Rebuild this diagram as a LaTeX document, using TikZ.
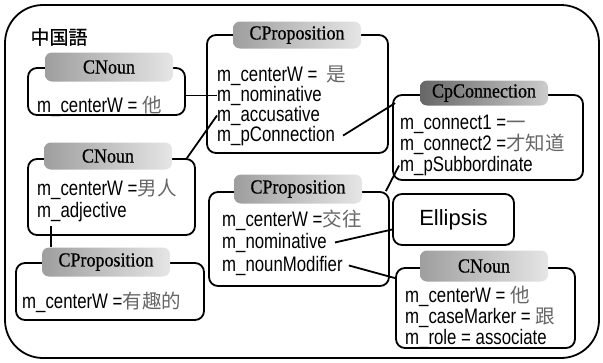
\documentclass[tikz,border=0pt]{standalone}
\usepackage{fontspec}
\setmainfont{Liberation Sans}
\newfontfamily\labfont[FakeStretch=0.8]{Liberation Sans}
\newfontfamily\hdrfont[FakeStretch=0.9,FakeBold=0.6]{Liberation Serif}
\newfontfamily\zhfont{Noto Sans CJK SC}
\newfontfamily\jpfont[FakeBold=0.8]{Noto Sans CJK JP}
\newcommand\zh[1]{{\zhfont\fontsize{19.5}{19.5}\selectfont\color{black!60}#1}}

\begin{document}
\begin{tikzpicture}[x=1pt,y=-1pt,
  frame/.style={draw,line width=1.8pt,rounded corners=9pt,inner sep=0pt},
  hdr/.style={rounded corners=7pt,shading=axis,left color=black!38,right color=black!10,
    inner sep=0pt,font=\hdrfont\fontsize{20}{20}\selectfont,
    minimum width=128pt,minimum height=29pt},
  hdrdark/.style={hdr,left color=black!60,right color=black!20},
  lab/.style={anchor=base west,inner sep=0pt,font=\labfont\fontsize{21}{21}\selectfont},
  link/.style={line width=1.8pt}]
\useasboundingbox (0,0) rectangle (603,362);

% outer language frame
\node[frame,rounded corners=38pt,minimum width=594pt,minimum height=353pt] (outer) at (302,181.5) {};
\node[font=\jpfont\fontsize{19}{19}\selectfont,inner sep=0pt] (title) at (59,37) {中国語};

% object boxes
\node[frame,minimum width=157pt,minimum height=47pt] (b1) at (106.5,91.5) {};
\node[frame,minimum width=167pt,minimum height=76pt] (b2) at (111.5,197) {};
\node[frame,minimum width=181pt,minimum height=118pt] (b3) at (297.5,94) {};
\node[frame,minimum width=190pt,minimum height=85pt] (b4) at (488,137.5) {};
\node[frame,minimum width=180pt,minimum height=94pt] (b5) at (299,239) {};
\node[frame,minimum width=121pt,minimum height=51pt,font=\fontsize{22}{22}\selectfont] (ell) at (453.5,219.5) {Ellipsis};
\node[frame,minimum width=179pt,minimum height=80pt] (b7) at (485.5,308) {};
\node[frame,minimum width=188pt,minimum height=57pt] (b8) at (110,291.5) {};

% class headers
\node[hdr] (h1) at (109,67) {CNoun};
\node[hdr,minimum height=27pt] (h2) at (108,156) {CNoun};
\node[hdr,minimum height=27pt] (h3) at (297,35) {CProposition};
\node[hdrdark,minimum height=25pt] (h4) at (484,93) {CpConnection};
\node[hdr] (h5) at (298,189) {CProposition};
\node[hdr,minimum height=31pt] (h7) at (484,266) {CNoun};
\node[hdr] (h8) at (106,262) {CProposition};

% member lines
\node[lab] (p1cw) at (37,112) {m\_centerW = \zh{他}};

\node[lab] (p3cw)  at (217,81)  {m\_centerW =\ \ \zh{是}};
\node[lab] (p3nom) at (217,101) {m\_nominative};
\node[lab] (p3acc) at (217,121) {m\_accusative};
\node[lab] (p3con) at (217,141) {m\_pConnection};

\node[lab] (p2cw)  at (37,195) {m\_centerW =\zh{男人}};
\node[lab] (p2adj) at (37,217) {m\_adjective};

\node[lab] (p4c1)  at (400,129) {m\_connect1 =\zh{一}};
\node[lab] (p4c2)  at (400,150) {m\_connect2 =\zh{才知道}};
\node[lab] (p4sub) at (400,171) {m\_pSubbordinate};

\node[lab] (p5cw)  at (222,226) {m\_centerW =\zh{交往}};
\node[lab] (p5nom) at (222,248) {m\_nominative};
\node[lab] (p5mod) at (222,271) {m\_nounModifier};

\node[lab] (p7cw)  at (405,302) {m\_centerW = \zh{他}};
\node[lab] (p7cm)  at (405,323) {m\_caseMarker = \zh{跟}};
\node[lab] (p7role) at (405,344) {m\_role = associate};

\node[lab] (p8cw)  at (22,308) {m\_centerW =\zh{有趣的}};

% references between objects
\draw[link] (b1.east |- p3nom.west) -- (p3nom.west);
\draw[link] ([xshift=-9pt]b2.north east) -- (p3acc.west);
\draw[link] ([xshift=8pt]p3con.east) -- ([shift={(3pt,-9pt)}]b4.north west);
\draw[link] ([xshift=-1pt]p4sub.west) -- ([xshift=-4pt]b5.north east);
\draw[link] ([xshift=8pt]p5nom.east) -- ([yshift=-10pt]ell.west);
\draw[link] ([xshift=6pt]p5mod.east) -- ([yshift=-11pt]b7.north west);
\draw[link] ([shift={(14pt,-4pt)}]p2adj.south west) -- ([xshift=14pt]p2adj.south west |- h8.north);
\end{tikzpicture}
\end{document}
